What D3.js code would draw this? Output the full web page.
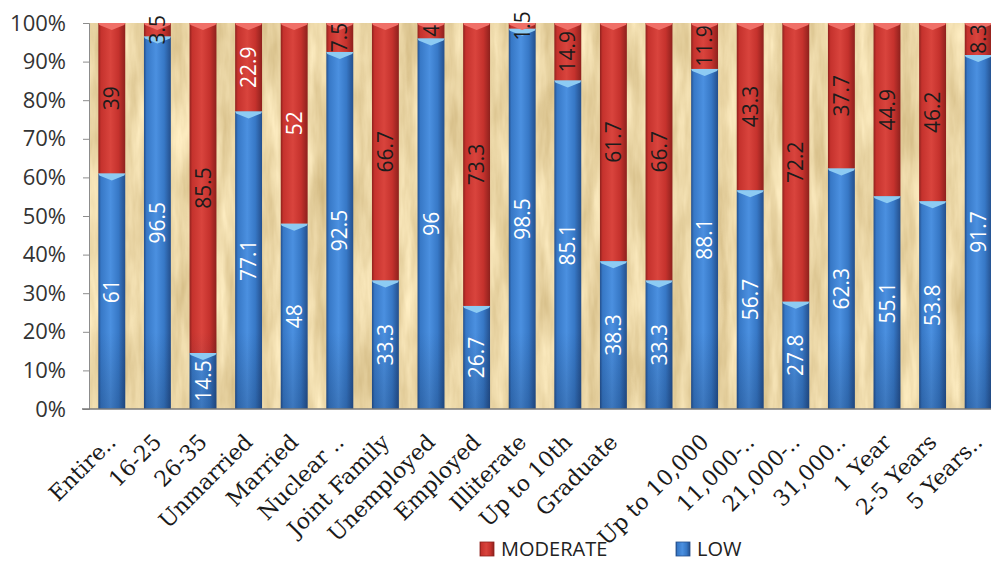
<!DOCTYPE html>
<html>
<head>
    <script src="https://d3js.org/d3.v7.min.js"></script>
    <style>
        body { margin: 0; background: #fff; }
        .tick text { font-family: "Open Sans", sans-serif; }
    </style>
</head>
<body>
    <svg width="991" height="561"></svg>
    <script>
        // categories (one bar has no visible label in the original)
        var categories = ["Entire..", "16-25", "26-35", "Unmarried", "Married", "Nuclear ..",
            "Joint Family", "Unemployed", "Employed", "Illiterate", "Up to 10th", "Graduate", "",
            "Up to 10,000", "11,000-..", "21,000-..", "31,000..", "1 Year", "2-5 Years", "5 Years.."];
        var lowValues = [61, 96.5, 14.5, 77.1, 48, 92.5, 33.3, 96, 26.7, 98.5, 85.1, 38.3, 33.3,
            88.1, 56.7, 27.8, 62.3, 55.1, 53.8, 91.7];
        var moderateValues = [39, 3.5, 85.5, 22.9, 52, 7.5, 66.7, 4, 73.3, 1.5, 14.9, 61.7, 66.7,
            11.9, 43.3, 72.2, 37.7, 44.9, 46.2, 8.3];
        var yTicks = [0, 0.1, 0.2, 0.3, 0.4, 0.5, 0.6, 0.7, 0.8, 0.9, 1];
        var seriesNames = ["MODERATE", "LOW"];

        // moderate labels that are drawn in white in the original
        var whiteModerate = [3, 4];

        var svg = d3.select("svg"),
            margin = {top: 23, left: 89},
            plotH = 386,
            plotRight = 1001;

        var data = categories.map(function(c, i) {
            return {i: i, name: c, low: lowValues[i], moderate: moderateValues[i]};
        });

        var x = d3.scaleBand()
            .domain(d3.range(categories.length))
            .range([margin.left, plotRight])
            .paddingInner(0.41)
            .paddingOuter(0.205);

        var y = d3.scaleLinear().domain([0, 1]).range([margin.top + plotH, margin.top]);

        var defs = svg.append("defs");

        // wood-ish background texture
        var f = defs.append("filter").attr("id", "wood")
            .attr("color-interpolation-filters", "sRGB")
            .attr("x", 0).attr("y", 0).attr("width", "100%").attr("height", "100%");
        f.append("feTurbulence").attr("type", "fractalNoise")
            .attr("baseFrequency", "0.07 0.012").attr("numOctaves", 4).attr("seed", 3);
        f.append("feColorMatrix").attr("type", "matrix")
            .attr("values", "0.22 0 0 0 0.81  0.26 0 0 0 0.71  0.32 0 0 0 0.49  0 0 0 0 1");

        function hGrad(id, edge, mid, light) {
            var g = defs.append("linearGradient").attr("id", id)
                .attr("x1", 0).attr("x2", 1).attr("y1", 0).attr("y2", 0);
            [[0, edge], [0.1, mid], [0.45, light], [0.75, mid], [1, edge]].forEach(function(s) {
                g.append("stop").attr("offset", s[0]).attr("stop-color", s[1]);
            });
        }
        hGrad("blueGrad", "#244f8c", "#3778c6", "#4b90e0");
        hGrad("redGrad", "#8e211d", "#c5322d", "#d9443d");

        var shade = defs.append("linearGradient").attr("id", "shade")
            .attr("x1", 0).attr("x2", 0).attr("y1", 0).attr("y2", 1);
        shade.append("stop").attr("offset", 0).attr("stop-color", "#0a1e40").attr("stop-opacity", 0);
        shade.append("stop").attr("offset", 1).attr("stop-color", "#0a1e40").attr("stop-opacity", 0.22);

        svg.append("rect")
            .attr("x", margin.left).attr("y", margin.top)
            .attr("width", plotRight - margin.left).attr("height", plotH)
            .attr("fill", "#e6cf98")
            .attr("filter", "url(#wood)");

        var bars = svg.append("g").selectAll("g").data(data).enter().append("g");

        // low segment
        bars.append("rect")
            .attr("x", function(d) { return x(d.i); })
            .attr("width", x.bandwidth())
            .attr("y", function(d) { return y(d.low / 100); })
            .attr("height", function(d) { return y(0) - y(d.low / 100); })
            .attr("fill", "url(#blueGrad)");

        // moderate segment
        bars.append("rect")
            .attr("x", function(d) { return x(d.i); })
            .attr("width", x.bandwidth())
            .attr("y", y(1))
            .attr("height", function(d) { return y(d.low / 100) - y(1); })
            .attr("fill", "url(#redGrad)");

        // darker foot of the bars
        bars.append("rect")
            .attr("x", function(d) { return x(d.i); })
            .attr("width", x.bandwidth())
            .attr("y", y(0.2))
            .attr("height", y(0) - y(0.2))
            .attr("fill", "url(#shade)");

        // chevron highlights at the top of each segment
        function chevron(d, top) {
            var x0 = x(d.i), x1 = x0 + x.bandwidth(), cx = x0 + x.bandwidth() / 2;
            return [[x0, top], [x1, top], [x1 - 1, top + 2], [cx, top + 7], [x0 + 1, top + 2]]
                .map(function(p) { return p.join(","); }).join(" ");
        }
        bars.append("polygon")
            .attr("points", function(d) { return chevron(d, y(d.low / 100)); })
            .attr("fill", "#8dcbf3");
        bars.append("polygon")
            .attr("points", function(d) { return chevron(d, y(1)); })
            .attr("fill", "#f07068");

        // value labels
        bars.append("text")
            .attr("transform", function(d) {
                return "translate(" + (x(d.i) + x.bandwidth() / 2) + "," + y(d.low / 200) + ") rotate(-90)";
            })
            .attr("text-anchor", "middle")
            .attr("dy", "0.36em")
            .attr("font-family", "Open Sans, sans-serif")
            .attr("font-size", 21)
            .attr("fill", "#fff")
            .text(function(d) { return d.low; });

        bars.append("text")
            .attr("transform", function(d) {
                return "translate(" + (x(d.i) + x.bandwidth() / 2) + "," + y((d.low + 100) / 200) + ") rotate(-90)";
            })
            .attr("text-anchor", "middle")
            .attr("dy", "0.36em")
            .attr("font-family", "Open Sans, sans-serif")
            .attr("font-size", 21)
            .attr("fill", function(d) { return whiteModerate.indexOf(d.i) >= 0 ? "#fff" : "#1c1c1c"; })
            .text(function(d) { return d.moderate; });

        // y axis
        var yAxis = d3.axisLeft(y)
            .tickValues(yTicks)
            .tickFormat(d3.format(".0%"))
            .tickSize(6)
            .tickPadding(17);
        var ya = svg.append("g")
            .attr("transform", "translate(" + margin.left + ",0)")
            .call(yAxis);
        ya.select(".domain").attr("stroke", "#8c8c8c");
        ya.selectAll(".tick line").attr("stroke", "#8c8c8c");
        ya.selectAll(".tick text")
            .attr("font-size", 22)
            .attr("fill", "#333");

        // x axis line
        svg.append("line")
            .attr("x1", margin.left - 7).attr("x2", plotRight)
            .attr("y1", y(0)).attr("y2", y(0))
            .attr("stroke", "#7a7a7a").attr("stroke-width", 1.5);

        // category labels
        svg.append("g").selectAll("text").data(data).enter().append("text")
            .attr("transform", function(d) {
                return "translate(" + (x(d.i) + x.bandwidth() / 2) + ",438) rotate(-45)";
            })
            .attr("text-anchor", "end")
            .attr("dy", "0.35em")
            .attr("font-family", "DejaVu Serif, serif")
            .attr("font-size", 22)
            .attr("fill", "#1a1a1a")
            .text(function(d) { return d.name; });

        // legend
        var legendX = [480, 676];
        var legendFill = ["url(#redGrad)", "url(#blueGrad)"];
        var lg = svg.append("g").selectAll("g").data(seriesNames).enter().append("g")
            .attr("transform", function(d, i) { return "translate(" + legendX[i] + ",542)"; });
        lg.append("rect")
            .attr("width", 14).attr("height", 14)
            .attr("fill", function(d, i) { return legendFill[i]; })
            .attr("stroke", function(d, i) { return i === 0 ? "#8e211d" : "#244f8c"; })
            .attr("stroke-width", 0.8);
        lg.append("text")
            .attr("x", 21).attr("y", 14)
            .attr("font-family", "Open Sans, sans-serif")
            .attr("font-size", 20)
            .attr("fill", "#222")
            .text(function(d) { return d; });
    </script>
</body>
</html>
